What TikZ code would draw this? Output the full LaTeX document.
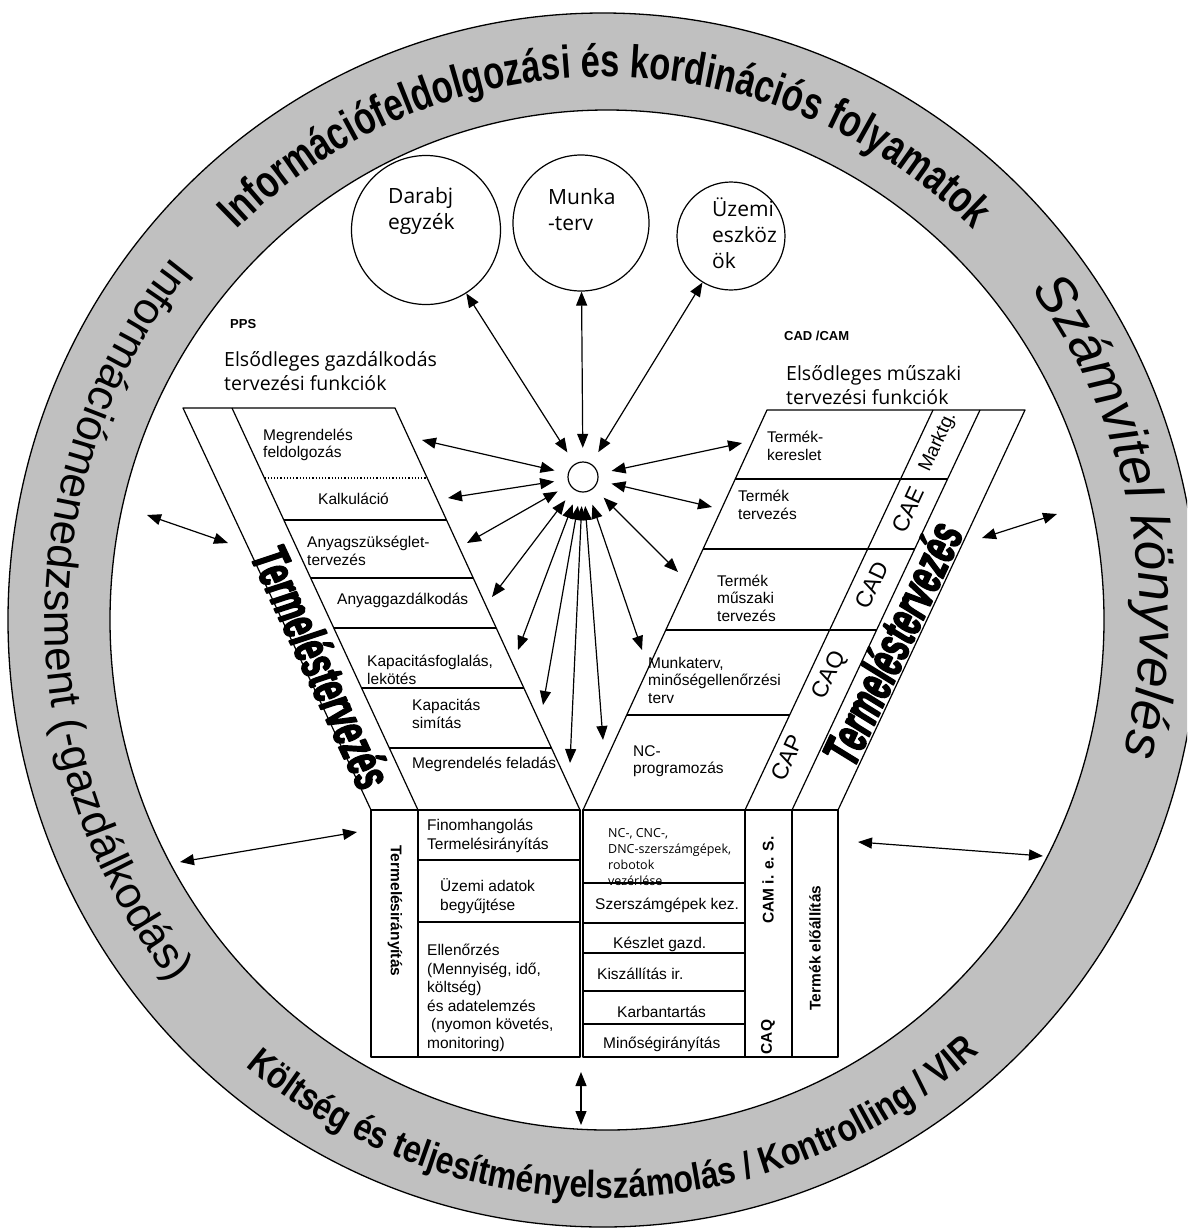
\documentclass[tikz,border=0pt]{standalone}
\usepackage{fontspec}
\setmainfont{Liberation Sans}
\newfontfamily\ringfont{Liberation Sans}[FakeStretch=0.75]
\newfontfamily\botfont{Liberation Sans}[FakeStretch=0.84]
\newfontfamily\heavyfont{Liberation Sans}[FakeStretch=0.6,BoldItalicFeatures={FakeBold=3}]
\newfontfamily\comicfont{Open Sans}
\usetikzlibrary{arrows.meta,calc,decorations.text}
\definecolor{ringgray}{RGB}{192,192,192}
\newcommand\topringfont{\fontsize{46}{46}\selectfont\ringfont\bfseries}
\newcommand\leftringfont{\fontsize{44}{44}\selectfont}
\newcommand\botringfont{\fontsize{38}{38}\selectfont\botfont\bfseries}
\newcommand\rightringfont{\fontsize{54}{54}\selectfont\itshape}
\begin{document}
\begin{tikzpicture}[x=1pt,y=1pt,line join=round,
  lw/.style={line width=1.2pt},
  conn/.style={{Triangle[length=14pt,width=11pt]}-{Triangle[length=14pt,width=11pt]},line width=1.2pt},
  armtxt/.style={font=\fontsize{15.5}{17.5}\selectfont,align=left,inner sep=0pt,anchor=west},
  boxtxt/.style={font=\fontsize{15.5}{18.5}\selectfont,align=left,inner sep=0pt,anchor=west},
  comtxt/.style={font=\comicfont\fontsize{21}{26}\selectfont,align=left,inner sep=0pt,anchor=west},
  headtxt/.style={font=\comicfont\fontsize{19.5}{24}\selectfont,align=left,inner sep=0pt,anchor=west},
  smalltxt/.style={font=\comicfont\fontsize{12.5}{16}\selectfont,align=left,inner sep=0pt,anchor=west},
  rottxt/.style={font=\fontsize{15.5}{15.5}\selectfont\bfseries,inner sep=0pt},
  caxtxt/.style={font=\fontsize{23}{23}\selectfont,inner sep=0pt,rotate=65},
  heavytxt/.style={font=\heavyfont\bfseries\itshape\fontsize{52}{52}\selectfont,inner sep=0pt},
  tagtxt/.style={font=\fontsize{13}{13}\selectfont\bfseries,inner sep=0pt,anchor=west},
  circ/.style={circle,draw,lw,inner sep=0pt}]
\useasboundingbox (0,0) rectangle (1187,-1232);
\clip (0,0) rectangle (1187,-1232);

% ---------------- ring ----------------
\coordinate (RC) at (605,-620);
\fill[ringgray,even odd rule] (603,-620) ellipse [x radius=595,y radius=607]
  (607,-620) ellipse [x radius=497,y radius=510];
\draw[line width=1.3pt] (603,-620) ellipse [x radius=595,y radius=607];
\draw[line width=1.3pt] (607,-620) ellipse [x radius=497,y radius=510];

\path[decorate,decoration={text along path,text align=center,
  text={|\topringfont|Információfeldolgozási és kordinációs folyamatok}}]
  ($(RC)+(140:530 and 543)$) arc[start angle=140,end angle=40,x radius=530,y radius=543];
\path[decorate,decoration={text along path,text align=center,
  text={|\leftringfont|Információmenedzsment (-gazdálkodás)}}]
  ($(RC)+(130:560 and 572)$) arc[start angle=130,end angle=230,x radius=560,y radius=572];
\path[decorate,decoration={text along path,text align=center,
  text={|\botringfont|Költség és teljesítményelszámolás / Kontrolling / VIR}}]
  ($(RC)+(221:565 and 578)$) arc[start angle=221,end angle=321,x radius=565,y radius=578];
\path[decorate,decoration={text along path,text align=center,
  text={|\rightringfont|Számvitel könyvelés}}]
  ($(RC)+(46.5:535 and 548)$) arc[start angle=46.5,end angle=-23.5,x radius=535,y radius=548];

% ---------------- left arm ----------------
\coordinate (LA1) at (183,-408); \coordinate (LA2) at (371,-810);
\coordinate (LB1) at (232,-408); \coordinate (LB2) at (418,-810);
\coordinate (LC1) at (395,-408); \coordinate (LC2) at (580,-810);
\draw[lw] (LA2) -- (LA1) -- (LC1) -- (LC2);
\draw[lw] (LB1) -- (LB2);
\draw[lw,dotted] ($(LB1)!0.1741!(LB2)$) -- ($(LC1)!0.1741!(LC2)$);
\foreach \t in {0.2786,0.4229,0.5473,0.6965,0.8458}
  \draw[lw] ($(LB1)!\t!(LB2)$) -- ($(LC1)!\t!(LC2)$);

% ---------------- right arm ----------------
\coordinate (RA1) at (767,-410); \coordinate (RA2) at (583,-810);
\coordinate (RB1) at (933,-410); \coordinate (RB2) at (745,-810);
\coordinate (RC1) at (980,-410); \coordinate (RC2) at (792,-810);
\coordinate (RD1) at (1025,-410); \coordinate (RD2) at (838,-810);
\draw[lw] (RA2) -- (RA1) -- (RD1) -- (RD2);
\draw[lw] (RB1) -- (RB2);
\draw[lw] (RC1) -- (RC2);
\foreach \t in {0.1725,0.3475,0.55}
  \draw[lw] ($(RA1)!\t!(RA2)$) -- ($(RC1)!\t!(RC2)$);
\draw[lw] ($(RA1)!0.7625!(RA2)$) -- ($(RB1)!0.7625!(RB2)$);

% ---------------- bottom boxes ----------------
\draw[lw] (371,-810) rectangle (580,-1057);
\draw[lw] (418,-810) -- (418,-1057);
\draw[lw] (418,-860) -- (580,-860);
\draw[lw] (418,-922) -- (580,-922);
\draw[lw] (583,-810) rectangle (838,-1057);
\draw[lw] (745,-810) -- (745,-1057);
\draw[lw] (792,-810) -- (792,-1057);
\foreach \y in {883,923,953,991,1024}
  \draw[lw] (583,-\y) -- (745,-\y);

% ---------------- texts: left arm ----------------
\node[armtxt] (t1) at (263,-445) {Megrendelés\\feldolgozás};
\node[armtxt] (t2) at (318,-499) {Kalkuláció};
\node[armtxt] (t3) at (307,-551) {Anyagszükséglet-\\tervezés};
\node[armtxt] (t4) at (337,-600) {Anyaggazdálkodás};
\node[armtxt] (t5) at (367,-670) {Kapacitásfoglalás,\\lekötés};
\node[armtxt] (t6) at (412,-714) {Kapacitás\\simítás};
\node[armtxt] (t7) at (412,-764) {Megrendelés feladás};
\node[heavytxt,rotate=-65] (lterv) at (322,-667) {Termeléstervezés};

% ---------------- texts: right arm ----------------
\node[armtxt] (r1) at (767,-446) {Termék-\\kereslet};
\node[armtxt] (r2) at (738,-505) {Termék\\tervezés};
\node[armtxt] (r3) at (717,-598) {Termék\\műszaki\\tervezés};
\node[armtxt] (r4) at (648,-680) {Munkaterv,\\minőségellenőrzési\\terv};
\node[armtxt] (r5) at (633,-761) {NC-\\programozás};
\node[caxtxt,font=\fontsize{19}{19}\selectfont] (cmk) at (938,-442) {Marktg.};
\node[caxtxt] (cae) at (908,-510) {CAE};
\node[caxtxt] (cad) at (872,-585) {CAD};
\node[caxtxt] (caq) at (830,-675) {CAQ};
\node[caxtxt] (cap) at (787,-758) {CAP};
\node[heavytxt,rotate=65] (rterv) at (892,-643) {Termeléstervezés};

% ---------------- texts: bottom boxes ----------------
\node[rottxt,rotate=-90] (tir) at (395,-911) {Termelésirányítás};
\node[boxtxt] (b1) at (427,-836) {Finomhangolás\\Termelésirányítás};
\node[boxtxt] (b2) at (440,-896) {Üzemi adatok\\begyűjtése};
\node[boxtxt] (b3) at (427,-998) {Ellenőrzés\\(Mennyiség, idő,\\költség)\\és adatelemzés\\\hspace*{4pt}(nyomon követés,\\monitoring)};
\node[smalltxt] (c1) at (608,-857) {NC-, CNC-,\\DNC-szerszámgépek,\\robotok\\vezérlése};
\node[boxtxt] (c2) at (595,-905) {Szerszámgépek kez.};
\node[boxtxt] (c3) at (613,-944) {Készlet gazd.};
\node[boxtxt] (c4) at (597,-974) {Kiszállítás ir.};
\node[boxtxt] (c5) at (617,-1012) {Karbantartás};
\node[boxtxt] (c6) at (603,-1044) {Minőségirányítás};
\node[rottxt,rotate=90] (cam) at (768,-880) {CAM i. e. S.};
\node[rottxt,rotate=90] (caq2) at (768,-1037) {CAQ};
\node[rottxt,rotate=90] (tel) at (815,-948) {Termék előállítás};

% ---------------- headings ----------------
\node[tagtxt] (pps) at (230,-324) {PPS};
\node[headtxt] (hl) at (224,-371) {Elsődleges gazdálkodás\\tervezési funkciók};
\node[tagtxt] (cadcam) at (784,-336) {CAD /CAM};
\node[headtxt] (hr) at (786,-385) {Elsődleges műszaki\\tervezési funkciók};

% ---------------- top circles ----------------
\node[circ,minimum size=149pt] (darabj) at (426,-230) {};
\node[circ,minimum size=136pt] (munka) at (581,-223) {};
\node[circ,minimum size=108pt] (uzemi) at (731,-236) {};
\node[comtxt] (darabjt) at (388,-211) {Darabj\\egyzék};
\node[comtxt] (munkat) at (548,-210) {Munka\\-terv};
\node[comtxt] (uzemit) at (712,-233) {Üzemi\\eszköz\\ök};

% ---------------- hub ----------------
\node[circ,minimum size=30pt] (hub) at (583,-477) {};
\node[circle,minimum size=58pt,inner sep=0pt] (hubz) at (583,-477) {};

\coordinate (pMf) at (422,-440);
\coordinate (pKa) at (448,-498);
\coordinate (pAs) at (467,-543);
\coordinate (pAg) at (492,-597);
\coordinate (pKf) at (518,-650);
\coordinate (pKs) at (543,-705);
\coordinate (pMfe) at (570,-763);
\coordinate (pNC) at (603,-740);
\coordinate (pMt) at (642,-650);
\coordinate (pTm) at (678,-572);
\coordinate (pTt) at (712,-507);
\coordinate (pTk) at (742,-443);
\foreach \p in {pMf,pKa,pAs,pAg,pKf,pKs,pMfe,pNC,pMt,pTm,pTt,pTk}
  \draw[conn] (hubz) -- (\p);
\draw[conn] (hubz) -- (darabj);
\draw[conn] (hubz) -- (munka);
\draw[conn] (hubz) -- (uzemi);

% ---------------- ring arrows ----------------
\coordinate (rl1a) at (147,-515); \coordinate (rl1b) at (228,-543);
\coordinate (rl2a) at (180,-862); \coordinate (rl2b) at (357,-832);
\coordinate (rr1a) at (982,-538); \coordinate (rr1b) at (1057,-514);
\coordinate (rr2a) at (858,-842); \coordinate (rr2b) at (1043,-856);
\coordinate (bt1) at (581,-1072); \coordinate (bt2) at (581,-1125);
\draw[conn] (rl1a) -- (rl1b);
\draw[conn] (rl2a) -- (rl2b);
\draw[conn] (rr1a) -- (rr1b);
\draw[conn] (rr2a) -- (rr2b);
\draw[conn] (bt1) -- (bt2);
\end{tikzpicture}
\end{document}
